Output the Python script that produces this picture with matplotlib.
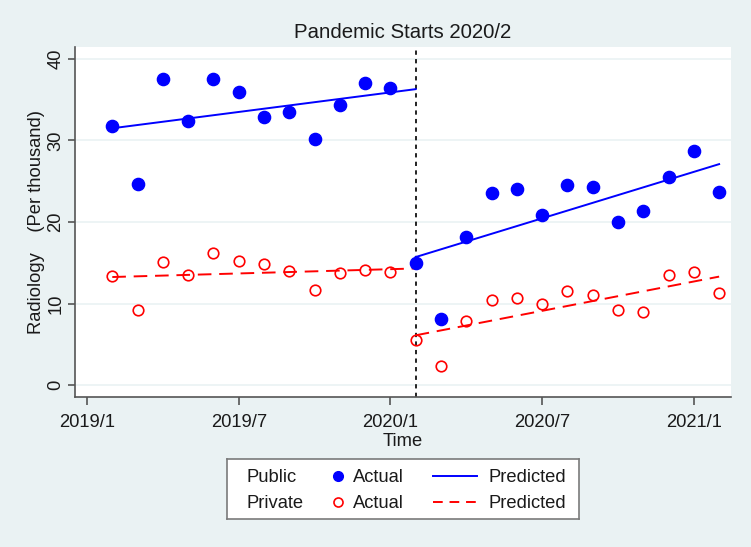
import numpy as np
import pandas as pd
import matplotlib
matplotlib.use("Agg")
import matplotlib.pyplot as plt

plt.rcParams['font.family'] = ['Liberation Sans', 'DejaVu Sans']

# monthly observations, 2019/2 .. 2021/2
months = pd.period_range('2019-02', '2021-02', freq='M')
public_actual = [31.8, 24.7, 37.5, 32.4, 37.6, 35.9, 32.9, 33.5, 30.2, 34.4, 37.1, 36.5,
                 15.0, 8.1, 18.1, 23.6, 24.0, 20.9, 24.5, 24.3, 20.0, 21.4, 25.5, 28.7, 23.7]
private_actual = [13.4, 9.2, 15.1, 13.5, 16.2, 15.2, 14.9, 14.0, 11.6, 13.7, 14.1, 13.9,
                  5.5, 2.3, 7.9, 10.4, 10.7, 9.9, 11.5, 11.0, 9.2, 9.0, 13.5, 13.9, 11.3]

# fitted segments (start, end)
pre_span = ['2019-02', '2020-02']
post_span = ['2020-02', '2021-02']
public_pred_pre = [31.5, 36.3]
public_pred_post = [15.7, 27.1]
private_pred_pre = [13.25, 14.3]
private_pred_post = [6.1, 13.3]

pandemic = '2020-02'
tick_months = ['2019-01', '2019-07', '2020-01', '2020-07', '2021-01']
tick_labels = ['2019/1', '2019/7', '2020/1', '2020/7', '2021/1']

base = pd.Period('2019-01', freq='M')
def midx(p):
    return (pd.Period(p, freq='M') - base).n

x = np.array([(m - base).n for m in months])

bg = '#EAF2F3'
txt = '#1a1a1a'
fig = plt.figure(figsize=(7.51, 5.47), dpi=100)
fig.patch.set_facecolor(bg)
ax = fig.add_axes([75 / 751, 1 - 397 / 547, 656 / 751, 350 / 547])
ax.set_facecolor('white')

ax.axvline(midx(pandemic), color='#222222', lw=1.4, ls=(0, (2.2, 2.2)), zorder=1)

ax.plot(x, public_actual, 'o', color='blue', ms=8.8, mec='blue', zorder=3)
ax.plot(x, private_actual, 'o', mfc='none', mec='red', mew=1.2, ms=7.6, zorder=3)

ax.plot([midx(p) for p in pre_span], public_pred_pre, color='blue', lw=1.4, zorder=2)
ax.plot([midx(p) for p in post_span], public_pred_post, color='blue', lw=1.4, zorder=2)
ax.plot([midx(p) for p in pre_span], private_pred_pre, color='red', lw=1.4, ls=(0, (7, 4)), zorder=2)
ax.plot([midx(p) for p in post_span], private_pred_post, color='red', lw=1.4, ls=(0, (7, 4)), zorder=2)

ax.set_xlim(-0.475, 25.47)
ax.set_ylim(-1.47, 41.47)
ax.set_xticks([midx(p) for p in tick_months])
ax.set_xticklabels(tick_labels)
ax.set_yticks([0, 10, 20, 30, 40])
ax.set_yticklabels(['0', '10', '20', '30', '40'], rotation=90, va='center')
ax.grid(axis='y', color=bg, lw=1.2)
ax.set_axisbelow(True)
for s in ['top', 'right']:
    ax.spines[s].set_visible(False)
for s in ['left', 'bottom']:
    ax.spines[s].set_color('#555555')
    ax.spines[s].set_linewidth(1.2)
ax.tick_params(axis='both', colors='#555555', labelcolor=txt, labelsize=13.2, width=1.2)
ax.tick_params(axis='x', length=6, pad=6.5)
ax.tick_params(axis='y', length=5, pad=2.5)

ax.set_xlabel('Time', fontsize=13.2, color=txt, labelpad=1.5)
ax.set_ylabel('Radiology    (Per thousand)', fontsize=13.2, color=txt, labelpad=1.5)

fig.text((75 + 731) / 2 / 751, 1 - 33 / 547, 'Pandemic Starts 2020/2',
         ha='center', va='center', fontsize=14.7, color=txt)

# legend box
lg = fig.add_axes([227 / 751, 1 - 519 / 547, 352 / 751, 60 / 547])
lg.set_xlim(0, 352)
lg.set_ylim(60, 0)
lg.set_xticks([])
lg.set_yticks([])
lg.set_facecolor('white')
for s in lg.spines.values():
    s.set_color('#7a7a7a')
    s.set_linewidth(1.2)
rows = [18, 44]
groups = ['Public', 'Private']
styles = [dict(marker='o', color='blue', ms=7, ls='none'),
          dict(marker='o', mfc='none', mec='red', mew=1.2, ms=6.5, ls='none')]
lines = [dict(color='blue', lw=1.4), dict(color='red', lw=1.4, ls=(0, (5, 3.5)))]
for r, g, st, ln in zip(rows, groups, styles, lines):
    lg.text(20, r, g, fontsize=13.2, va='center', color=txt)
    lg.plot([111], [r - 1], **st)
    lg.text(126, r, 'Actual', fontsize=13.2, va='center', color=txt)
    lg.plot([206, 250], [r - 1, r - 1], **ln)
    lg.text(261, r, 'Predicted', fontsize=13.2, va='center', color=txt)

fig.savefig('out.png', dpi=100, facecolor=bg)
